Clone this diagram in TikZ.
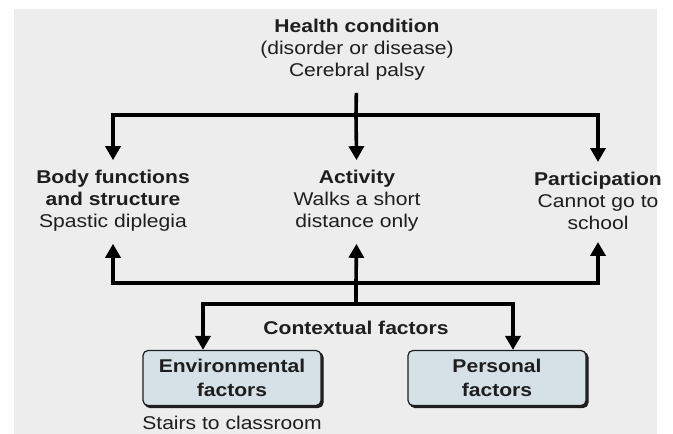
\documentclass[tikz,border=0pt]{standalone}
\usepackage{fontspec}
\setmainfont{Liberation Sans}[FakeStretch=1.14]
\usepackage{xcolor}
\usetikzlibrary{arrows.meta,positioning,calc}
\definecolor{bggray}{HTML}{EDEDED}
\definecolor{boxblue}{HTML}{D5E1E7}
\definecolor{inkgray}{HTML}{1E1E1E}

\begin{document}
\begin{tikzpicture}[x=1pt,y=-1pt,
lbl/.style={align=center,inner sep=2pt,text=inkgray,font=\fontsize{18.5}{22}\selectfont},
factor/.style={lbl,draw=inkgray,line width=1.2pt,fill=boxblue,rounded corners=5pt,minimum width=178pt,minimum height=55pt,font=\fontsize{18.5}{24}\selectfont\bfseries,preaction={fill=inkgray,draw=inkgray,transform canvas={shift={(2pt,-2pt)}}}},
link/.style={line width=3.6pt,draw=black},
arr/.style={link,-{Triangle[length=14pt,width=15pt]}}
]
\useasboundingbox (0,0) rectangle (673,434);
\fill[bggray] (14,9) rectangle (657,434);

\node[lbl] (health) at (357,50) {\textbf{Health condition}\\(disorder or disease)\\Cerebral palsy};
\node[lbl] (body) at (113,201) {\textbf{Body functions}\\\textbf{and structure}\\Spastic diplegia};
\node[lbl] (act) at (357,201) {\textbf{Activity}\\Walks a short\\distance only};
\node[lbl] (part) at (598,201) {\textbf{Participation}\\Cannot go to\\school};
\node[lbl,font=\fontsize{18.5}{22}\selectfont\bfseries] (ctx) at (356,328) {Contextual factors};
\node[factor] (env) at (232,378) {Environmental\\factors};
\node[factor] (pers) at (497,378) {Personal\\factors};
\node[lbl,below=8pt of env] (stairs) {Stairs to classroom};

\coordinate (hubtop) at (356,115);
\coordinate (hubmid) at (356,283);
\coordinate (hubctx) at (356,304);

\draw[link,shorten <=10pt] (health) -- (hubtop);
\draw[arr,shorten >=8pt] (hubtop) -| (body);
\draw[arr,shorten >=8pt] (hubtop) -- (act);
\draw[arr,shorten >=8pt] (hubtop) -| (part);
\draw[arr,shorten >=10pt] (hubmid) -| (body);
\draw[arr,shorten >=10pt] (hubmid) -- (act);
\draw[arr,shorten >=10pt] (hubmid) -| (part);
\draw[link] (hubmid) -- (hubctx);
\draw[arr] (hubctx) -| ([xshift=-29pt]env.north);
\draw[arr] (hubctx) -| ([xshift=16pt]pers.north);
\end{tikzpicture}
\end{document}
